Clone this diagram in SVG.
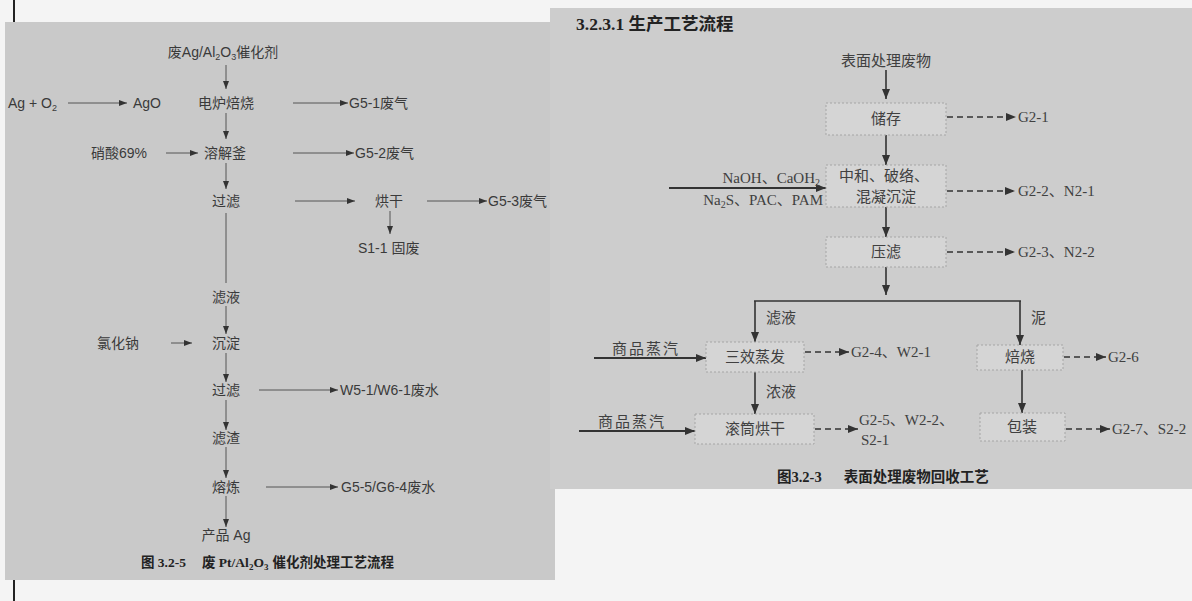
<svg xmlns="http://www.w3.org/2000/svg" width="1192" height="601" viewBox="0 0 1192 601">
<defs>
<style>
.lt{font-family:"Liberation Sans","Noto Sans CJK SC",sans-serif;font-size:14px;fill:#3a3a3a}
.rt{font-family:"Liberation Serif","Noto Sans CJK SC",serif;font-size:15px;fill:#404040}
.cap{font-family:"Liberation Serif","Noto Sans CJK SC",serif;font-weight:bold;fill:#222}
.c{text-anchor:middle}
.e{text-anchor:end}
.ll{stroke:#555;stroke-width:1;fill:none}
.rl{stroke:#333;stroke-width:1.6;fill:none}
.rin{stroke:#333;stroke-width:2.2;fill:none}
.rd{stroke:#333;stroke-width:1.6;fill:none;stroke-dasharray:6,4}
.box{fill:#d5d5d5;stroke:#a5a5a5;stroke-width:1;stroke-dasharray:2,2}
</style>
<marker id="la" viewBox="0 0 8 6" refX="8" refY="3" markerWidth="8" markerHeight="6" markerUnits="userSpaceOnUse" orient="auto">
<path d="M0,0 L8,3 L0,6 Z" fill="#333"/>
</marker>
<marker id="ra" viewBox="0 0 10 8" refX="10" refY="4" markerWidth="10" markerHeight="8" markerUnits="userSpaceOnUse" orient="auto">
<path d="M0,0 L10,4 L0,8 Z" fill="#333"/>
</marker>
</defs>
<rect x="0" y="0" width="1192" height="601" fill="#f4f4f4"/>
<line x1="14" y1="0" x2="14" y2="22" stroke="#222" stroke-width="2"/>
<line x1="14" y1="580" x2="14" y2="601" stroke="#222" stroke-width="2"/>
<rect x="5" y="22" width="550" height="558" fill="#c9c9c9"/>
<rect x="550" y="8" width="642" height="481" fill="#cdcdcd"/>

<g id="connectors">
<g class="ll" marker-end="url(#la)">
<line x1="226" y1="65" x2="226" y2="89"/>
<line x1="226" y1="113" x2="226" y2="139"/>
<line x1="226" y1="163" x2="226" y2="189"/>
<line x1="226" y1="306" x2="226" y2="334"/>
<line x1="226" y1="353" x2="226" y2="382"/>
<line x1="226" y1="400" x2="226" y2="430"/>
<line x1="226" y1="447" x2="226" y2="478"/>
<line x1="226" y1="496" x2="226" y2="527"/>
<line x1="68" y1="103" x2="127" y2="103"/>
<line x1="293" y1="103" x2="348" y2="103"/>
<line x1="166" y1="153" x2="198" y2="153"/>
<line x1="293" y1="153" x2="354" y2="153"/>
<line x1="295" y1="201" x2="355" y2="201"/>
<line x1="427" y1="201" x2="487" y2="201"/>
<line x1="390" y1="211" x2="390" y2="234"/>
<line x1="171" y1="343" x2="192" y2="343"/>
<line x1="259" y1="390" x2="338" y2="390"/>
<line x1="266" y1="487" x2="338" y2="487"/>
</g>
<line class="ll" x1="226" y1="213" x2="226" y2="283"/>
<g class="rl" marker-end="url(#ra)">
<line x1="886" y1="70" x2="886" y2="99"/>
<line x1="886" y1="135" x2="886" y2="165"/>
<line x1="886" y1="207" x2="886" y2="237"/>
<line x1="886" y1="267" x2="886" y2="295"/>
<line x1="755" y1="301" x2="755" y2="342"/>
<line x1="1020" y1="301" x2="1020" y2="345"/>
<line x1="755" y1="372" x2="755" y2="414"/>
<line x1="1022" y1="370" x2="1022" y2="413"/>
</g>
<line class="rl" x1="754" y1="301" x2="1021" y2="301"/>
<g class="rin" marker-end="url(#ra)">
<line x1="669" y1="188" x2="826" y2="188"/>
<line x1="594" y1="358" x2="706" y2="358"/>
<line x1="579" y1="431" x2="695" y2="431"/>
</g>
<g class="rd" marker-end="url(#ra)">
<line x1="947" y1="117" x2="1016" y2="117"/>
<line x1="947" y1="191" x2="1015" y2="191"/>
<line x1="947" y1="252" x2="1015" y2="252"/>
<line x1="805" y1="352" x2="849" y2="352"/>
<line x1="1064" y1="357" x2="1106" y2="357"/>
<line x1="815" y1="429" x2="858" y2="429"/>
<line x1="1066" y1="429" x2="1110" y2="429"/>
</g>
</g>

<g id="n-feed"><text class="lt c" x="223" y="57">废Ag/Al<tspan font-size="9" dy="3">2</tspan><tspan dy="-3">O</tspan><tspan font-size="9" dy="3">3</tspan><tspan dy="-3">催化剂</tspan></text></g>
<g id="n-ago-in"><text class="lt" x="8" y="108">Ag + O<tspan font-size="9" dy="3">2</tspan></text></g>
<g id="n-ago"><text class="lt" x="133" y="108">AgO</text></g>
<g id="n-roast"><text class="lt c" x="226" y="108">电炉焙烧</text></g>
<g id="n-g51"><text class="lt" x="349" y="108">G5-1废气</text></g>
<g id="n-hno3"><text class="lt" x="91" y="158">硝酸69%</text></g>
<g id="n-dissolve"><text class="lt c" x="225" y="158">溶解釜</text></g>
<g id="n-g52"><text class="lt" x="355" y="158">G5-2废气</text></g>
<g id="n-filter1"><text class="lt c" x="226" y="206">过滤</text></g>
<g id="n-dry"><text class="lt c" x="389" y="206">烘干</text></g>
<g id="n-g53"><text class="lt" x="488" y="206">G5-3废气</text></g>
<g id="n-s11"><text class="lt" x="358" y="253">S1-1 固废</text></g>
<g id="n-filtrate"><text class="lt c" x="226" y="302">滤液</text></g>
<g id="n-nacl"><text class="lt" x="97" y="348">氯化钠</text></g>
<g id="n-precip"><text class="lt c" x="226" y="348">沉淀</text></g>
<g id="n-filter2"><text class="lt c" x="226" y="395">过滤</text></g>
<g id="n-w51"><text class="lt" x="340" y="395">W5-1/W6-1废水</text></g>
<g id="n-residue"><text class="lt c" x="226" y="443">滤渣</text></g>
<g id="n-smelt"><text class="lt c" x="226" y="492">熔炼</text></g>
<g id="n-g55"><text class="lt" x="341" y="492">G5-5/G6-4废水</text></g>
<g id="n-product"><text class="lt c" x="226" y="540">产品 Ag</text></g>
<g id="cap-left"><text class="cap" x="141" y="567" font-size="13.5">图 3.2-5<tspan dx="16">废 Pt/Al</tspan><tspan font-size="9" dy="3">2</tspan><tspan dy="-3">O</tspan><tspan font-size="9" dy="3">3</tspan><tspan dy="-3" dx="4">催化剂处理工艺流程</tspan></text></g>

<g id="title-right"><text class="cap" x="576" y="30" font-size="17.5">3.2.3.1 生产工艺流程</text></g>
<g id="r-waste"><text class="rt c" x="886" y="66">表面处理废物</text></g>
<g id="r-store"><rect class="box" x="826" y="103" width="120" height="32"/><text class="rt c" x="886" y="124">储存</text></g>
<g id="r-g21"><text class="rt" x="1018" y="122">G2-1</text></g>
<g id="r-reagent"><text class="rt e" x="820" y="183">NaOH、CaOH<tspan font-size="10" dy="3">2</tspan></text><text class="rt e" x="823" y="205">Na<tspan font-size="10" dy="3">2</tspan><tspan dy="-3">S、PAC、PAM</tspan></text></g>
<g id="r-neutral"><rect class="box" x="826" y="165" width="120" height="42"/><text class="rt c" x="884" y="181">中和、破络、</text><text class="rt c" x="886" y="202">混凝沉淀</text></g>
<g id="r-g22"><text class="rt" x="1018" y="196">G2-2、N2-1</text></g>
<g id="r-press"><rect class="box" x="826" y="237" width="120" height="30"/><text class="rt c" x="886" y="257">压滤</text></g>
<g id="r-g23"><text class="rt" x="1018" y="257">G2-3、N2-2</text></g>
<g id="r-lbl-filtrate"><text class="rt" x="766" y="323">滤液</text></g>
<g id="r-lbl-mud"><text class="rt" x="1031" y="323">泥</text></g>
<g id="r-steam1"><text class="rt c" x="646" y="354" font-size="13" letter-spacing="2">商品蒸汽</text></g>
<g id="r-evap"><rect class="box" x="706" y="342" width="98" height="30"/><text class="rt c" x="755" y="362">三效蒸发</text></g>
<g id="r-g24"><text class="rt" x="851" y="357">G2-4、W2-1</text></g>
<g id="r-burn"><rect class="box" x="977" y="345" width="86" height="25"/><text class="rt c" x="1020" y="362">焙烧</text></g>
<g id="r-g26"><text class="rt" x="1108" y="362">G2-6</text></g>
<g id="r-lbl-conc"><text class="rt" x="766" y="397">浓液</text></g>
<g id="r-steam2"><text class="rt c" x="632" y="427" font-size="13" letter-spacing="2">商品蒸汽</text></g>
<g id="r-drum"><rect class="box" x="695" y="414" width="119" height="30"/><text class="rt c" x="755" y="434">滚筒烘干</text></g>
<g id="r-g25"><text class="rt" x="859" y="425">G2-5、W2-2、</text><text class="rt" x="861" y="445">S2-1</text></g>
<g id="r-pack"><rect class="box" x="980" y="413" width="85" height="28"/><text class="rt c" x="1022" y="432">包装</text></g>
<g id="r-g27"><text class="rt" x="1112" y="434">G2-7、S2-2</text></g>
<g id="cap-right"><text class="cap" x="777" y="482" font-size="14.5">图3.2-3<tspan dx="22">表面处理废物回收工艺</tspan></text></g>
</svg>
